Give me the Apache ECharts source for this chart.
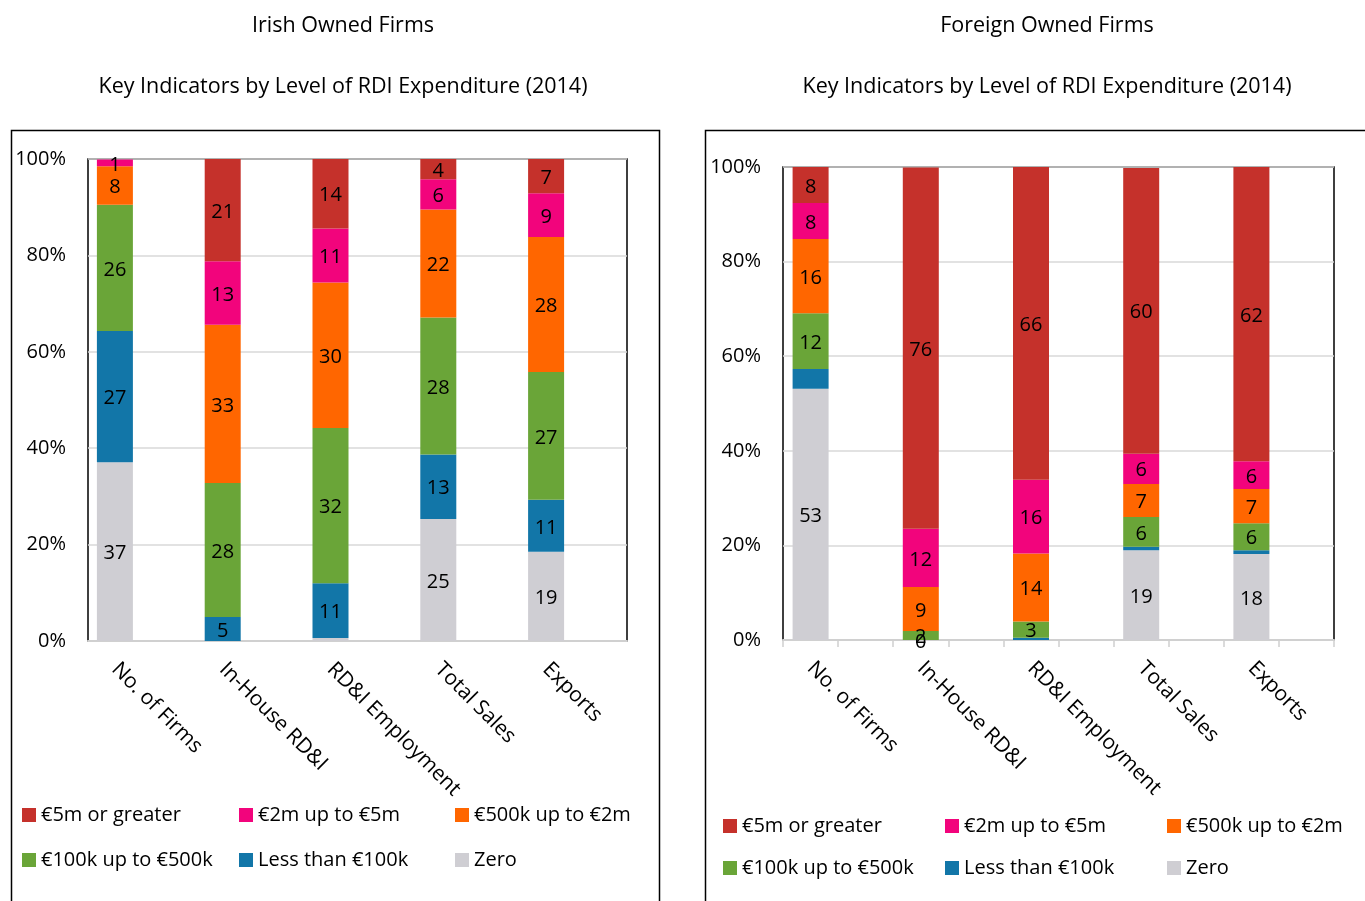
<!DOCTYPE html>
<html>
<head>
<meta charset="utf-8">
<script src="https://cdn.jsdelivr.net/npm/echarts@6/dist/echarts.min.js"></script>
<style>
html,body{margin:0;padding:0;background:#fff;}
#chart{width:1365px;height:901px;}
</style>
</head>
<body>
<div id="chart"></div>
<script>
// ---- data ----
const categories = ['No. of Firms', 'In-House RD&I', 'RD&I Employment', 'Total Sales', 'Exports'];
const seriesNames = ['Zero', 'Less than €100k', '€100k up to €500k', '€500k up to €2m', '€2m up to €5m', '€5m or greater'];
const yTicks = [0, 20, 40, 60, 80, 100];

// Irish owned firms (% shares)
const irishZero      = [37.1, null, 0.6, 25.3, 18.5];
const irishLess100k  = [27.2, 5.0, 11.4, 13.4, 10.8];
const irish100k500k  = [26.2, 27.8, 32.2, 28.4, 26.5];
const irish500k2m    = [8.0, 32.8, 30.2, 22.4, 28.0];
const irish2m5m      = [1.4, 13.2, 11.2, 6.3, 9.1];
const irish5mPlus    = [null, 21.2, 14.4, 4.2, 7.1];

// Foreign owned firms (% shares)
const foreignZero     = [53.1, 0, null, 19.0, 18.2];
const foreignLess100k = [4.2, null, 0.5, 0.7, 0.8];
const foreign100k500k = [11.8, 1.9, 3.4, 6.3, 5.7];
const foreign500k2m   = [15.7, 9.3, 14.4, 7.0, 7.2];
const foreign2m5m     = [7.6, 12.3, 15.6, 6.4, 5.9];
const foreign5mPlus   = [7.6, 76.4, 66.1, 60.4, 62.2];

// labels not shown in the original
const foreignHiddenLabels = {'Less than €100k': [0]};

const colors = {
  'Zero': '#CFCED3',
  'Less than €100k': '#1276A8',
  '€100k up to €500k': '#6AA538',
  '€500k up to €2m': '#FF6600',
  '€2m up to €5m': '#F2047C',
  '€5m or greater': '#C5312B'
};

const FONT = "'Open Sans', 'Noto Sans', sans-serif";
const irishData = [irishZero, irishLess100k, irish100k500k, irish500k2m, irish2m5m, irish5mPlus];
const foreignData = [foreignZero, foreignLess100k, foreign100k500k, foreign500k2m, foreign2m5m, foreign5mPlus];

function buildSeries(dataSets, xIdx, yIdx, stack, hidden) {
  return seriesNames.map((name, i) => ({
    name: name,
    type: 'bar',
    stack: stack,
    xAxisIndex: xIdx,
    yAxisIndex: yIdx,
    barWidth: 36,
    itemStyle: {color: colors[name]},
    label: {
      show: true,
      position: 'inside',
      offset: [0, 2],
      color: '#000',
      fontSize: 20,
      fontFamily: FONT,
      formatter: p => {
        const v = p.value;
        if (v == null) return '';
        if (v > 0 && v < 1) return '';
        if (hidden && hidden[name] && hidden[name].includes(p.dataIndex)) return '';
        return String(Math.round(v));
      }
    },
    data: dataSets[i]
  }));
}

const chart = echarts.init(document.getElementById('chart'), null, {renderer: 'canvas'});

const titleStyle = {fontSize: 21.5, fontWeight: 'normal', color: '#000', fontFamily: FONT};

function legendCol(items, left, top, gap) {
  return {
    orient: 'vertical', left: left, top: top, itemGap: gap,
    itemWidth: 14, itemHeight: 14, icon: 'rect', itemStyle: {borderWidth: 0},
    textStyle: {fontSize: 20, color: '#000', fontFamily: FONT},
    data: items
  };
}

const yLabelStyle = {fontSize: 20, color: '#000', fontFamily: FONT, formatter: '{value}%', margin: 22};
const xLabelStyle = {interval: 0, rotate: -45, fontSize: 21, color: '#000', fontFamily: FONT, margin: 25};

const option = {
  animation: false,
  backgroundColor: '#fff',
  title: [
    {text: 'Irish Owned Firms', left: 338, top: 10, textAlign: 'center', textStyle: titleStyle},
    {text: 'Key Indicators by Level of RDI Expenditure (2014)', left: 338, top: 71, textAlign: 'center', textStyle: titleStyle},
    {text: 'Foreign Owned Firms', left: 1042, top: 10, textAlign: 'center', textStyle: titleStyle},
    {text: 'Key Indicators by Level of RDI Expenditure (2014)', left: 1042, top: 71, textAlign: 'center', textStyle: titleStyle}
  ],
  graphic: [
    {type: 'rect', shape: {x: 11.5, y: 130.5, width: 648, height: 800}, style: {fill: 'none', stroke: '#000', lineWidth: 1.5}, z: -10},
    {type: 'rect', shape: {x: 705.5, y: 130.5, width: 700, height: 800}, style: {fill: 'none', stroke: '#000', lineWidth: 1.5}, z: -10}
  ],
  legend: [
    legendCol(['€5m or greater', '€100k up to €500k'], 17, 800, 25),
    legendCol(['€2m up to €5m', 'Less than €100k'], 234, 800, 25),
    legendCol(['€500k up to €2m', 'Zero'], 450, 800, 25),
    legendCol(['€5m or greater', '€100k up to €500k'], 718, 811, 22),
    legendCol(['€2m up to €5m', 'Less than €100k'], 940, 811, 22),
    legendCol(['€500k up to €2m', 'Zero'], 1162, 811, 22)
  ],
  grid: [
    // left: frame / gridlines
    {left: 88, width: 539, top: 159, bottom: 260, show: true, borderColor: '#000', borderWidth: 1.5, backgroundColor: 'transparent'},
    // left: bars
    {left: 61, width: 539, top: 159, bottom: 260},
    // right: frame / gridlines / ticks
    {left: 783, width: 551, top: 167, bottom: 261, show: true, borderColor: '#000', borderWidth: 1.5, backgroundColor: 'transparent'},
    // right: bars
    {left: 755.5, width: 551, top: 167, bottom: 261}
  ],
  xAxis: [
    {gridIndex: 0, type: 'category', data: categories, axisLine: {lineStyle: {color: '#D0D0D0', width: 2}}, axisTick: {show: false}, axisLabel: {show: false}},
    {gridIndex: 1, type: 'category', data: categories, axisLine: {show: false}, axisTick: {show: false}, axisLabel: xLabelStyle},
    {gridIndex: 2, type: 'category', data: ['', '', '', '', '', '', '', '', '', ''], axisLine: {lineStyle: {color: '#D0D0D0', width: 2}},
      axisTick: {show: true, length: 7, lineStyle: {color: '#D0D0D0', width: 1.5}}, axisLabel: {show: false}},
    {gridIndex: 3, type: 'category', data: categories, axisLine: {show: false}, axisTick: {show: false}, axisLabel: xLabelStyle}
  ],
  yAxis: [
    {gridIndex: 0, type: 'value', min: 0, max: 100, interval: 20, axisLabel: yLabelStyle, axisLine: {show: false}, axisTick: {show: false},
      splitLine: {lineStyle: {color: '#D9D9D9', width: 1.5}}},
    {gridIndex: 1, type: 'value', min: 0, max: 100, show: false, splitLine: {show: false}},
    {gridIndex: 2, type: 'value', min: 0, max: 100, interval: 20, axisLabel: yLabelStyle, axisLine: {show: false}, axisTick: {show: false},
      splitLine: {lineStyle: {color: '#D9D9D9', width: 1.5}}},
    {gridIndex: 3, type: 'value', min: 0, max: 100, show: false, splitLine: {show: false}}
  ],
  series: [].concat(
    buildSeries(irishData, 1, 1, 'irish', null),
    buildSeries(foreignData, 3, 3, 'foreign', foreignHiddenLabels)
  )
};
chart.setOption(option);
</script>
</body>
</html>
